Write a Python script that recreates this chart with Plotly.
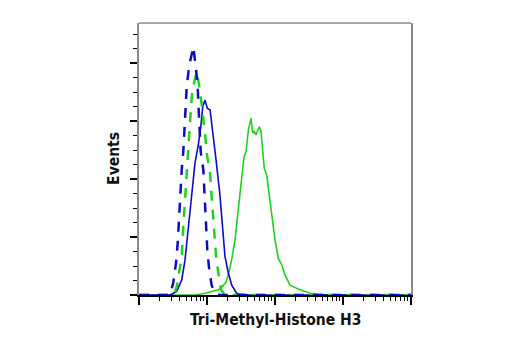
import plotly.graph_objects as go

# Fluorescence intensity (log scale) and event counts
blue_dash_x = [1, 2.86, 3.19, 3.50, 3.71, 3.88, 4.01, 4.25, 4.48, 4.64, 4.75, 5.03, 5.44, 6.29,
               6.89, 7.30, 7.55, 7.81, 8.08, 8.83, 9.13, 9.57, 10.1, 10.8, 11.7, 13.1, 15.5, 10000]
blue_dash_y = [0, 0, 21, 55, 90, 135, 176, 216, 247, 284, 322, 359, 394, 428,
               391, 357, 319, 282, 247, 216, 176, 129, 78, 43, 17, 3, 0, 0]

green_dash_x = [1, 3.27, 3.58, 3.88, 4.25, 4.48, 4.75, 5.03, 5.26, 5.44, 5.76, 6.08, 7.06,
                7.89, 8.65, 9.35, 9.90, 11.1, 11.7, 12.7, 13.6, 14.7, 16.1, 18.4, 10000]
green_dash_y = [0, 0, 14, 38, 66, 118, 169, 210, 245, 279, 316, 353, 385,
                353, 316, 279, 245, 210, 169, 118, 66, 38, 9, 0, 0]

blue_solid_x = [1, 2.04, 2.86, 3.58, 4.25, 4.75, 5.31, 5.96, 6.66, 7.45, 8.16, 8.65, 9.35, 10.1,
                11.1, 12.1, 13.1, 13.7, 15.5, 16.8, 18.4, 20.6, 23.1, 27.3, 30.6, 42.9, 10000]
blue_solid_y = [0, 0, 0, 6, 26, 60, 118, 176, 228, 259, 293, 325, 336, 322,
                319, 282, 253, 229, 172, 118, 66, 38, 17, 3, 1, 0, 0]

green_solid_x = [1, 6.66, 9.35, 14.7, 16.6, 19.0, 21.1, 23.3, 25.8, 28.6, 30.6, 32.7, 35.0, 37.5,
                 40.5, 44.4, 47.0, 49.6, 52.6, 55.7, 58.8, 62.2, 65.9, 69.6, 75.5, 82.5, 89.4,
                 100, 112, 126, 140, 166, 233, 327, 459, 644, 10000]
green_solid_y = [0, 0, 3, 9, 14, 22, 40, 64, 95, 147, 181, 216, 238, 247,
                 284, 305, 279, 282, 276, 284, 290, 282, 253, 218, 207, 169, 135,
                 95, 63, 52, 35, 17, 9, 3, 1, 0, 0]

BLUE = "#0c0cc4"
GREEN = "#1ed21e"

fig = go.Figure()
fig.add_trace(go.Scatter(x=green_solid_x, y=green_solid_y, mode="lines",
                         line=dict(color=GREEN, width=1.6)))
fig.add_trace(go.Scatter(x=blue_solid_x, y=blue_solid_y, mode="lines",
                         line=dict(color=BLUE, width=1.6)))
fig.add_trace(go.Scatter(x=green_dash_x, y=green_dash_y, mode="lines",
                         line=dict(color=GREEN, width=2.5, dash="10px,9px")))
fig.add_trace(go.Scatter(x=blue_dash_x, y=blue_dash_y, mode="lines",
                         line=dict(color=BLUE, width=2.5, dash="10px,9px")))

title_font = dict(family="DejaVu Sans Condensed, Liberation Sans Narrow, sans-serif",
                  size=15.5, color="#111111")

fig.update_layout(
    width=520, height=350,
    margin=dict(l=139, r=109, t=23, b=55),
    paper_bgcolor="white", plot_bgcolor="white",
    showlegend=False,
    xaxis=dict(type="log", range=[0, 4], dtick=1, showgrid=False, zeroline=False,
               showticklabels=False, ticks="outside", ticklen=8, tickwidth=2,
               tickcolor="black", showline=True, linecolor="black", linewidth=2,
               minor=dict(ticks="outside", ticklen=4, tickwidth=1.3, tickcolor="black",
                          dtick="D1", showgrid=False)),
    yaxis=dict(range=[0, 469], dtick=100, showgrid=False, zeroline=False,
               showticklabels=False, ticks="outside", ticklen=7, tickwidth=2,
               tickcolor="black", showline=True, linecolor="#8a8a8a", linewidth=1.5,
               mirror=True,
               minor=dict(ticks="outside", ticklen=4, tickwidth=1.3, tickcolor="black",
                          dtick=25, showgrid=False)),
    shapes=[dict(type="line", xref="paper", yref="paper", x0=0, x1=1, y0=1, y1=1,
                 line=dict(color="#8a8a8a", width=1.5))],
    annotations=[
        dict(text="<b>Tri-Methyl-Histone H3</b>", xref="paper", yref="paper",
             x=0.5, y=-0.092, xanchor="center", yanchor="middle", showarrow=False,
             font=title_font),
        dict(text="<b>Events</b>", xref="paper", yref="paper",
             x=-0.092, y=0.504, xanchor="center", yanchor="middle", showarrow=False,
             textangle=-90, font=title_font),
    ],
)

fig.write_html("out.html")
